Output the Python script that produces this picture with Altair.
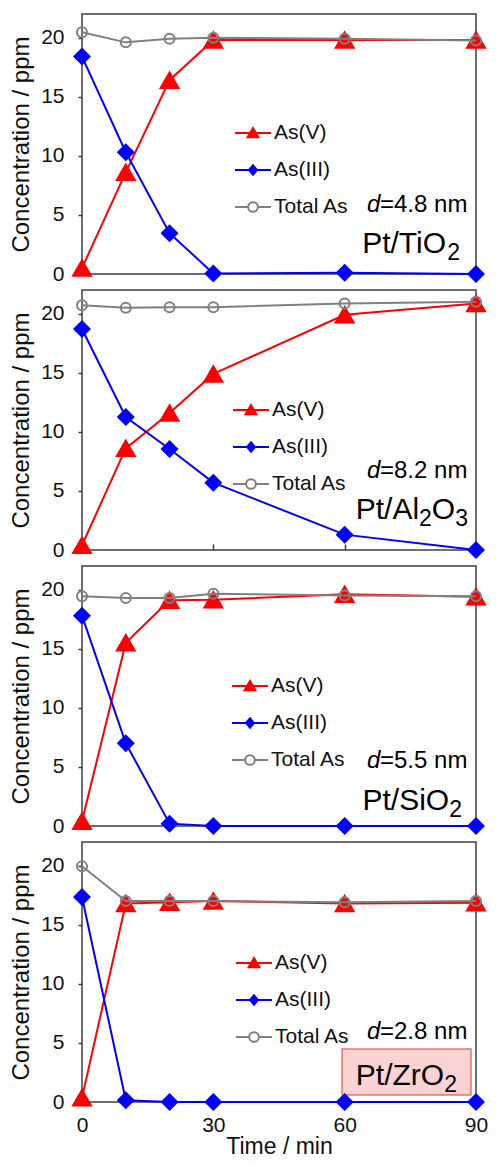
import altair as alt
import pandas as pd

# ---------------- data ----------------
TIME = [0, 10, 20, 30, 60, 90]
SERIES = ["As(V)", "As(III)", "Total As"]

TIO2_V = [0.5, 8.6, 16.4, 19.8, 19.8, 19.8]
TIO2_III = [18.4, 10.3, 3.45, 0.05, 0.1, 0.0]
TIO2_TOT = [20.45, 19.6, 19.9, 20.0, 19.9, 19.75]

AL2O3_V = [0.4, 8.6, 11.6, 14.9, 19.9, 20.85]
AL2O3_III = [18.7, 11.25, 8.55, 5.7, 1.3, 0.0]
AL2O3_TOT = [20.7, 20.5, 20.55, 20.55, 20.85, 21.0]

SIO2_V = [0.4, 15.5, 19.1, 19.15, 19.6, 19.4]
SIO2_III = [17.8, 7.0, 0.2, 0.0, 0.0, 0.0]
SIO2_TOT = [19.45, 19.3, 19.3, 19.65, 19.5, 19.45]

ZRO2_V = [0.35, 16.8, 16.9, 17.0, 16.8, 16.85]
ZRO2_III = [17.35, 0.15, 0.0, 0.0, 0.0, 0.0]
ZRO2_TOT = [19.95, 17.0, 17.0, 17.0, 16.9, 17.0]

CATALYST_PIECES = [
    [("Pt/TiO", False), ("2", True)],
    [("Pt/Al", False), ("2", True), ("O", False), ("3", True)],
    [("Pt/SiO", False), ("2", True)],
    [("Pt/ZrO", False), ("2", True)],
]
D_LABELS = ["=4.8 nm", "=8.2 nm", "=5.5 nm", "=2.8 nm"]
Y_TICKS = [0, 5, 10, 15, 20]
X_TICKS = [0, 30, 60, 90]

# ---------------- style ----------------
FONT = "Liberation Sans"
TXT = "#111111"
FRAME = "#404040"
W, H = 394, 260
COLORS = ["#ff0000", "#0000ff", "#808080"]
FILLS = ["#ff0000", "#0000ff", "transparent"]
SHAPES = ["triangle-up", "diamond", "circle"]
SIZES = [320, 230, 100]

MAIN_FS, SUB_FS, SUB_DY = 30, 23, 7
D_FS = 24
ARIAL = {"P": 667, "t": 278, "/": 278, "T": 611, "i": 222, "O": 778, "A": 667,
         "l": 222, "S": 667, "Z": 611, "r": 333, "2": 556, "3": 556}

# annotation placement (plot-area pixels; right-anchored items use margins)
LEGEND_POS = [(152, 100), (150, 101), (149, 101), (153, 102)]
D_FROM_RIGHT = 109
D_Y = [198, 188, 202, 197]
CAT_MARGIN = [16, 8, 14, 19]
CAT_Y = [239, 229, 244, 243]
BOX_W, BOX_MARGIN, BOX_Y = 129, 5, (207, 253)

# legend symbols: short line with a small marker in the middle
LEGEND_PATHS = [
    "M-1,0H1M-0.3,0.24L0,-0.28L0.3,0.24Z",
    "M-1,0H1M-0.22,0L0,-0.26L0.22,0L0,0.26Z",
    "M-1,0H-0.27M0.27,0H1M-0.27,0A0.27,0.27,0,1,0,0.27,0A0.27,0.27,0,1,0,-0.27,0Z",
]


def text_width(s, fs):
    return sum(ARIAL.get(ch, 556) for ch in s) / 1000.0 * fs


def legend_for(lx, ly):
    return alt.Legend(
        title=None, orient="none", legendX=lx, legendY=ly,
        symbolSize=1296, symbolStrokeWidth=2, labelFontSize=21,
        labelFont=FONT, labelColor=TXT, labelOffset=2, rowPadding=8, padding=0,
        symbolOpacity=1, symbolFillColor="#ff0000", symbolStrokeColor="#ff0000",
    )


def text_layer(label, x, y, fs, italic=False):
    kw = dict(align="left", baseline="alphabetic", fontSize=fs, font=FONT, color="black")
    if italic:
        kw["fontStyle"] = "italic"
    return alt.Chart(pd.DataFrame({"label": [label]})).mark_text(**kw).encode(
        x=alt.value(x), y=alt.value(y), text="label:N")


def make_panel(idx, v, iii, tot, bottom):
    df = pd.DataFrame({
        "t": TIME * 3,
        "series": [s for s in SERIES for _ in TIME],
        "c": v + iii + tot,
    })
    x_axis = alt.Axis(values=X_TICKS, grid=False, domain=False, offset=-6, tickSize=6,
                      tickWidth=1.5, tickColor=FRAME, labels=bottom,
                      title="Time / min" if bottom else None, labelFontSize=21,
                      labelFont=FONT, labelColor=TXT, labelPadding=12, labelFlush=False,
                      titleFontSize=23, titleFont=FONT, titleFontWeight="normal",
                      titleColor=TXT, titlePadding=0)
    y_axis = alt.Axis(values=Y_TICKS, grid=False, domain=False, tickSize=4, tickWidth=1.5,
                      tickColor=FRAME, title="Concentration / ppm", labelFontSize=21,
                      labelFont=FONT, labelColor=TXT, labelPadding=14,
                      titleFontSize=24, titleFont=FONT, titleFontWeight="normal",
                      titleColor=TXT, titlePadding=7)
    x = alt.X("t:Q", scale=alt.Scale(domain=[0, 90], nice=False, zero=False, padding=0),
              axis=x_axis)
    y = alt.Y("c:Q", scale=alt.Scale(domain=[0, 22], nice=False, padding=0), axis=y_axis)

    layers = []
    if idx == 3:
        x1 = W - BOX_MARGIN
        layers.append(alt.Chart(pd.DataFrame({"k": [0]})).mark_rect(
            fill="#fbd3d3", stroke="#f07070", strokeWidth=1.5).encode(
            x=alt.value(x1 - BOX_W), x2=alt.value(x1),
            y=alt.value(BOX_Y[0]), y2=alt.value(BOX_Y[1])))

    base = alt.Chart(df)
    for i, s in enumerate(SERIES):
        sub = base.transform_filter(alt.datum.series == s)
        layers.append(sub.mark_line(strokeWidth=2, color=COLORS[i]).encode(x=x, y=y))
        pkw = dict(shape=SHAPES[i], size=SIZES[i], strokeWidth=2, opacity=1, stroke=COLORS[i])
        if FILLS[i] == "transparent":
            pkw["filled"] = False
        else:
            pkw["filled"] = True
            pkw["fill"] = FILLS[i]
        layers.append(sub.mark_point(**pkw).encode(x=x, y=y))

    # invisible layer that carries the legend (line + marker symbols)
    leg = legend_for(*LEGEND_POS[idx])
    layers.append(base.mark_point(opacity=0, filled=True).encode(
        x=x, y=y,
        fill=alt.Fill("series:N", scale=alt.Scale(domain=SERIES, range=FILLS), legend=leg),
        stroke=alt.Stroke("series:N", scale=alt.Scale(domain=SERIES, range=COLORS), legend=leg),
        shape=alt.Shape("series:N", scale=alt.Scale(domain=SERIES, range=LEGEND_PATHS), legend=leg),
    ))

    # d = ... nm annotation
    dx, dy = W - D_FROM_RIGHT, D_Y[idx]
    layers.append(text_layer("d", dx, dy, D_FS, italic=True))
    layers.append(text_layer(D_LABELS[idx], dx + 13, dy, D_FS))

    # catalyst name with subscripts (built right to left)
    xe, by = W - CAT_MARGIN[idx], CAT_Y[idx]
    for piece, is_sub in reversed(CATALYST_PIECES[idx]):
        fs = SUB_FS if is_sub else MAIN_FS
        xs = xe - text_width(piece, fs)
        layers.append(text_layer(piece, xs, by + (SUB_DY if is_sub else 0), fs))
        xe = xs

    return alt.layer(*layers).properties(width=W, height=H)


panels = [
    make_panel(0, TIO2_V, TIO2_III, TIO2_TOT, False),
    make_panel(1, AL2O3_V, AL2O3_III, AL2O3_TOT, False),
    make_panel(2, SIO2_V, SIO2_III, SIO2_TOT, False),
    make_panel(3, ZRO2_V, ZRO2_III, ZRO2_TOT, True),
]

chart = alt.vconcat(*panels, spacing=2).resolve_scale(
    stroke="independent", fill="independent", shape="independent").resolve_legend(
    stroke="independent", fill="independent", shape="independent").properties(
    padding={"left": 0, "top": 5, "right": 0, "bottom": 0},
    background="white",
).configure_view(stroke=FRAME, strokeWidth=1.5)

chart.save("out.html", embed_options={"renderer": "svg", "actions": False})
